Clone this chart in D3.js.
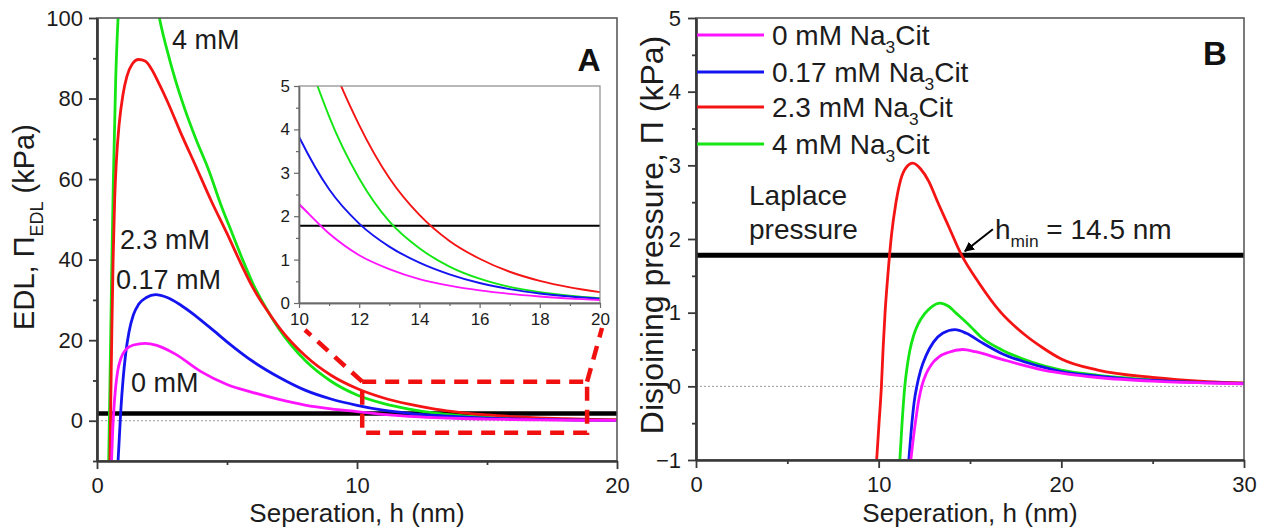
<!DOCTYPE html>
<html>
<head>
<meta charset="utf-8">
<script src="https://cdn.jsdelivr.net/npm/d3@7"></script>
<style>
  body { margin: 0; background: #fff; }
  svg { display: block; }
</style>
</head>
<body>
<svg id="chart" width="1270" height="532"></svg>
<script>
// ---------------- data ----------------
// Electrolyte concentrations (Na3Cit) and their line colours
const concentrations = ["0", "0.17", "2.3", "4"];
const seriesColors = ["#ff14ff", "#1414f0", "#f51414", "#14e614"];

// Panel A: EDL disjoining pressure, [h (nm), Pi_EDL (kPa)]
const edl0 = [[0.56,-10],[0.6,-3],[0.65,3],[0.72,8.5],[0.8,12.5],[0.92,15.5],[1.1,17.6],[1.4,18.8],[1.85,19.2],[2.3,18.7],[3.0,16.6],[4.0,12.2],[5.0,9.0],[6.0,7.0],[7.0,5.3],[8.0,3.9],[9.0,2.95],[10,2.28],[11,1.6],[12,1.1],[13,0.78],[14,0.55],[15,0.4],[16,0.29],[17,0.21],[18,0.15],[19,0.1],[20,0.07]];
const edl017 = [[0.81,-10],[0.86,-4],[0.92,3],[1.0,10],[1.1,16.5],[1.23,22],[1.4,26.3],[1.6,28.9],[1.9,30.6],[2.25,31.3],[2.7,30.6],[3.2,28.8],[3.8,26],[4.5,22.3],[5.0,19.6],[6.0,14.7],[7.0,10.8],[8.0,7.6],[9.0,5.4],[10,3.83],[11,2.62],[12,1.83],[13,1.3],[14,0.93],[15,0.66],[16,0.46],[17,0.32],[18,0.22],[19,0.15],[20,0.1]];
const edl23 = [[0.5,-10],[0.53,5],[0.57,22],[0.62,40],[0.68,55],[0.75,65],[0.85,73.5],[1.0,81],[1.15,85.5],[1.35,88.5],[1.6,89.7],[1.85,89.3],[2.1,87.3],[2.4,83.5],[2.7,79.4],[3.2,71.8],[3.8,63.2],[4.4,54.5],[5.0,46.5],[5.5,39.5],[6.0,33],[6.5,27.8],[7.0,23.2],[8.0,16.2],[9.0,11.3],[10,8.0],[11,5.7],[12,4.1],[13,2.88],[14,2.03],[15,1.43],[16,1.02],[17,0.72],[18,0.51],[19,0.36],[20,0.25]];
const edl4 = [[0.45,-10],[0.5,10],[0.56,35],[0.63,60],[0.72,85],[0.81,100],[0.95,115],[1.15,124],[1.45,127],[1.8,121],[2.1,111],[2.4,100],[2.8,89.5],[3.26,79.6],[3.8,70],[4.28,62.5],[4.8,53],[5.2,46.5],[5.6,40],[6.0,34],[6.5,28],[7.0,22.8],[8.0,15],[9.0,9.8],[10,6.4],[11,4.3],[12,2.87],[13,1.88],[14,1.26],[15,0.84],[16,0.56],[17,0.37],[18,0.25],[19,0.17],[20,0.11]];

// Panel B: total disjoining pressure, [h (nm), Pi (kPa)]
const dj0 = [[11.76,-1],[11.9,-0.7],[12.05,-0.42],[12.2,-0.18],[12.38,0.02],[12.6,0.17],[12.9,0.3],[13.3,0.4],[13.8,0.46],[14.6,0.5],[15.3,0.47],[16.7,0.37],[18,0.28],[19,0.22],[20,0.18],[22,0.12],[25,0.07],[28,0.045],[30,0.035]];
const dj017 = [[11.65,-1],[11.8,-0.55],[11.95,-0.2],[12.09,0],[12.3,0.22],[12.6,0.42],[13.0,0.6],[13.5,0.72],[14.18,0.77],[14.8,0.72],[15.6,0.6],[16.7,0.45],[18,0.33],[19,0.26],[20,0.2],[22,0.14],[25,0.08],[28,0.05],[30,0.04]];
const dj23 = [[9.89,-1],[10.02,-0.5],[10.15,0],[10.24,0.5],[10.35,1.0],[10.5,1.5],[10.7,2.05],[10.95,2.5],[11.2,2.8],[11.5,2.97],[11.87,3.03],[12.3,2.95],[12.75,2.78],[13.2,2.52],[13.85,2.16],[14.5,1.8],[15.5,1.4],[16.7,1.0],[18,0.7],[19,0.52],[20,0.37],[22,0.22],[25,0.12],[28,0.065],[30,0.045]];
const dj4 = [[11.16,-1],[11.28,-0.5],[11.43,0],[11.55,0.25],[11.7,0.48],[11.9,0.68],[12.15,0.84],[12.5,0.98],[12.9,1.08],[13.36,1.13],[13.8,1.09],[14.3,0.98],[15,0.82],[15.6,0.67],[16.7,0.5],[17.8,0.38],[19,0.28],[20,0.22],[22,0.15],[25,0.09],[28,0.055],[30,0.04]];

const laplacePressure = 1.78;   // kPa
const hMin = 14.5;              // nm

// tick values
const xTicksA = [0, 10, 20], xMinorA = [5, 15];
const yTicksA = [0, 20, 40, 60, 80, 100], yMinorA = [-10, 10, 30, 50, 70, 90];
const xTicksIn = [10, 12, 14, 16, 18, 20], xMinorIn = [11, 13, 15, 17, 19];
const yTicksIn = [0, 1, 2, 3, 4, 5], yMinorIn = [0.5, 1.5, 2.5, 3.5, 4.5];
const xTicksB = [0, 10, 20, 30], xMinorB = [5, 15, 25];
const yTicksB = [-1, 0, 1, 2, 3, 4, 5], yMinorB = [-0.5, 0.5, 1.5, 2.5, 3.5, 4.5];

// zoomed window shown by the inset: h range and pressure range
const zoomH = [10.2, 18.85], zoomP = [-3, 9.7];

// ---------------- drawing ----------------
const FONT = '"Liberation Sans", Arial, Helvetica, sans-serif';
const svg = d3.select("#chart").attr("font-family", FONT);
const defs = svg.append("defs");

const edlSeries = [edl0, edl017, edl23, edl4];
const djSeries = [dj0, dj017, dj23, dj4];
const drawOrder = [3, 2, 1, 0];

function clip(id, x, y) {
  const [x0, x1] = x.range(), [y1, y0] = y.range();
  defs.append("clipPath").attr("id", id)
    .append("rect").attr("x", x0).attr("y", y0).attr("width", x1 - x0).attr("height", y1 - y0);
}

function axes(g, x, y, o) {
  const [x0, x1] = x.range(), [y1, y0] = y.range();
  g.append("rect").attr("x", x0).attr("y", y0).attr("width", x1 - x0).attr("height", y1 - y0)
    .attr("fill", "none").attr("stroke", o.frame).attr("stroke-width", o.frameW);
  const bx = g.append("g").attr("transform", `translate(0,${y1})`);
  bx.append("g").call(d3.axisBottom(x).tickValues(o.xMinor).tickSize(o.minor).tickFormat("").tickSizeOuter(0));
  bx.append("g").call(d3.axisBottom(x).tickValues(o.xTicks).tickSize(o.major).tickPadding(o.xPad).tickSizeOuter(0).tickFormat(d3.format("d")));
  const ly = g.append("g").attr("transform", `translate(${x0},0)`);
  ly.append("g").call(d3.axisLeft(y).tickValues(o.yMinor).tickSize(o.minor).tickFormat("").tickSizeOuter(0));
  ly.append("g").call(d3.axisLeft(y).tickValues(o.yTicks).tickSize(o.major).tickPadding(o.yPad).tickSizeOuter(0).tickFormat(d3.format("d")));
  g.selectAll(".domain").attr("stroke", o.axis).attr("stroke-width", o.axisW);
  g.selectAll(".tick line").attr("stroke", o.axis).attr("stroke-width", o.tickW);
  g.selectAll(".tick text").attr("font-family", FONT).attr("font-size", o.font).attr("fill", "#1c1c1c");
}

function curves(g, x, y, series, clipId, width, minH) {
  const line = d3.line().x(d => x(d[0])).y(d => y(d[1])).curve(d3.curveMonotoneX);
  const cg = g.append("g").attr("clip-path", `url(#${clipId})`);
  drawOrder.forEach(i => {
    const pts = series[i].filter(d => minH == null || d[0] >= minH);
    cg.append("path").attr("d", line(pts)).attr("fill", "none")
      .attr("stroke", seriesColors[i]).attr("stroke-width", width)
      .attr("stroke-linejoin", "round").attr("stroke-linecap", "round");
  });
}

function zeroLine(g, x, y) {
  g.append("line").attr("x1", x.range()[0]).attr("x2", x.range()[1])
    .attr("y1", y(0)).attr("y2", y(0))
    .attr("stroke", "#9a9a9a").attr("stroke-width", 1).attr("stroke-dasharray", "2,2");
}

function laplace(g, x, y, w) {
  g.append("line").attr("x1", x.range()[0]).attr("x2", x.range()[1])
    .attr("y1", y(laplacePressure)).attr("y2", y(laplacePressure))
    .attr("stroke", "#000").attr("stroke-width", w);
}

// rich text: parts = [[text, "sub"|undefined], ...]
function richText(g, x, y, parts, size, anchor, transform) {
  const t = g.append("text").attr("x", x).attr("y", y).attr("font-size", size)
    .attr("fill", "#1c1c1c").attr("text-anchor", anchor || "start");
  if (transform) t.attr("transform", transform);
  let shifted = false;
  parts.forEach(([s, kind]) => {
    const sp = t.append("tspan").text(s);
    if (kind === "sub" && !shifted) { sp.attr("dy", size * 0.3).attr("font-size", size * 0.62); shifted = true; }
    else if (kind !== "sub" && shifted) { sp.attr("dy", -size * 0.3); shifted = false; }
    else if (kind === "sub") sp.attr("font-size", size * 0.62);
  });
  return t;
}

// ======== Panel A ========
const xA = d3.scaleLinear().domain([0, 20]).range([97, 617]);
const yA = d3.scaleLinear().domain([-10, 100]).range([461, 18]);
const gA = svg.append("g");
clip("clipA", xA, yA);
zeroLine(gA, xA, yA);
laplace(gA, xA, yA, 4.5);
curves(gA, xA, yA, edlSeries, "clipA", 2.8);
axes(gA, xA, yA, {
  frame: "#5a5a5a", frameW: 1.6, axis: "#383838", axisW: 2.2, tickW: 1.8,
  major: 8, minor: 4, xPad: 8, yPad: 6, font: 22,
  xTicks: xTicksA, xMinor: xMinorA, yTicks: yTicksA, yMinor: yMinorA
});

// zoom window and connectors
const zoomG = gA.append("g").attr("fill", "none").attr("stroke", "#f01010")
  .attr("stroke-width", 4.5).attr("stroke-dasharray", "14,9");
zoomG.append("rect").attr("x", xA(zoomH[0])).attr("y", yA(zoomP[1]))
  .attr("width", xA(zoomH[1]) - xA(zoomH[0])).attr("height", yA(zoomP[0]) - yA(zoomP[1]));

// inset
const xIn = d3.scaleLinear().domain([10, 20]).range([299, 600]);
const yIn = d3.scaleLinear().domain([0, 5]).range([303, 86]);
zoomG.append("line").attr("x1", xA(zoomH[0])).attr("y1", yA(zoomP[1]))
  .attr("x2", xIn(10) + 6).attr("y2", yIn(0) + 27);
zoomG.append("line").attr("x1", xA(zoomH[1])).attr("y1", yA(zoomP[1]))
  .attr("x2", xIn(20) + 2).attr("y2", yIn(0) + 25);

const gIn = svg.append("g");
clip("clipIn", xIn, yIn);
gIn.append("rect").attr("x", 299).attr("y", 86).attr("width", 301).attr("height", 217).attr("fill", "#fff");
laplace(gIn, xIn, yIn, 2.2);
curves(gIn, xIn, yIn, edlSeries, "clipIn", 1.9, 9);
axes(gIn, xIn, yIn, {
  frame: "#8a8a8a", frameW: 1.2, axis: "#6a6a6a", axisW: 1.4, tickW: 1.2,
  major: 5, minor: 3, xPad: 5, yPad: 4, font: 17,
  xTicks: xTicksIn, xMinor: xMinorIn, yTicks: yTicksIn, yMinor: yMinorIn
});

// curve labels
const labA = [[172, 49, 3], [120, 249, 2], [116, 289, 1], [131, 392, 0]];
labA.forEach(([x, y, i]) => richText(gA, x, y, [[concentrations[i] + " mM"]], 27));
gA.append("text").attr("x", 589).attr("y", 71).attr("text-anchor", "middle")
  .attr("font-size", 32).attr("font-weight", "bold").attr("fill", "#111").text("A");

// axis titles
richText(gA, 357, 522, [["Seperation, h (nm)"]], 26, "middle");
richText(gA, 0, 0, [["EDL, \u03A0"], ["EDL", "sub"], [" (kPa)"]], 29, "middle", "translate(34,227) rotate(-90)");

// ======== Panel B ========
const xB = d3.scaleLinear().domain([0, 30]).range([696, 1244]);
const yB = d3.scaleLinear().domain([-1, 5]).range([460, 18]);
const gB = svg.append("g");
clip("clipB", xB, yB);
zeroLine(gB, xB, yB);
laplace(gB, xB, yB, 5);
curves(gB, xB, yB, djSeries, "clipB", 2.8);
axes(gB, xB, yB, {
  frame: "#5a5a5a", frameW: 1.6, axis: "#383838", axisW: 2.2, tickW: 1.8,
  major: 8, minor: 4, xPad: 8, yPad: 7, font: 22,
  xTicks: xTicksB, xMinor: xMinorB, yTicks: yTicksB, yMinor: yMinorB
});

// legend
const legendY = [35, 72, 107, 144];
concentrations.forEach((c, i) => {
  gB.append("line").attr("x1", 697).attr("x2", 764).attr("y1", legendY[i]).attr("y2", legendY[i])
    .attr("stroke", seriesColors[i]).attr("stroke-width", 3);
  richText(gB, 772, legendY[i] + 10, [[c + " mM Na"], ["3", "sub"], ["Cit"]], 28);
});

// Laplace pressure annotation
richText(gB, 749, 205, [["Laplace"]], 28);
richText(gB, 749, 239, [["pressure"]], 28);

// h_min arrow and label
const tipX = xB(hMin) + 4, tipY = yB(laplacePressure) - 4;
defs.append("marker").attr("id", "arrowHead").attr("viewBox", "0 0 10 10")
  .attr("refX", 9).attr("refY", 5).attr("markerWidth", 5).attr("markerHeight", 5)
  .attr("orient", "auto").append("path").attr("d", "M0,0 L10,5 L0,10 z").attr("fill", "#000");
gB.append("line").attr("x1", tipX + 28).attr("y1", tipY - 22).attr("x2", tipX).attr("y2", tipY)
  .attr("stroke", "#000").attr("stroke-width", 2).attr("marker-end", "url(#arrowHead)");
richText(gB, 995, 239, [["h"], ["min", "sub"], [" = " + hMin + " nm"]], 28);

gB.append("text").attr("x", 1215).attr("y", 65).attr("text-anchor", "middle")
  .attr("font-size", 33).attr("font-weight", "bold").attr("fill", "#111").text("B");

richText(gB, 970, 522, [["Seperation, h (nm)"]], 26, "middle");
richText(gB, 0, 0, [["Disjoining pressure, \u03A0 (kPa)"]], 32, "middle", "translate(663,235) rotate(-90)");
</script>
</body>
</html>
